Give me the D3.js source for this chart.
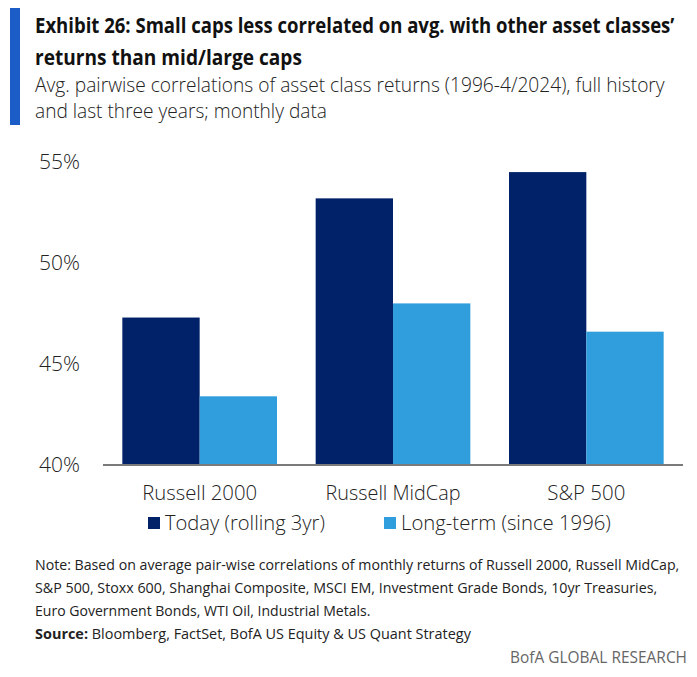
<!DOCTYPE html>
<html lang="en">
<head>
<meta charset="UTF-8">
<script src="https://d3js.org/d3.v7.min.js"></script>
<style>
    body { margin: 0; background: #fff; }
    svg { display: block; font-family: "Open Sans", "Noto Sans", sans-serif; }
</style>
</head>
<body>
<div id="chart"></div>
<script>
    // data
    const categories = ["Russell 2000", "Russell MidCap", "S&P 500"];
    const seriesNames = ["Today (rolling 3yr)", "Long-term (since 1996)"];
    const todayValues = [47.3, 53.2, 54.5];
    const longTermValues = [43.4, 48.0, 46.6];
    const yTicks = [40, 45, 50, 55];

    const width = 697, height = 677;
    const colors = ["#012169", "#309ddc"];

    const svg = d3.select("#chart").append("svg")
        .attr("width", width)
        .attr("height", height);

    // the original uses a condensed face: draw text at (0,0) inside a group,
    // then squeeze the group horizontally to the target width
    const label = (parent, x, y, w, opts) => {
        const g = parent.append("g");
        const t = g.append("text")
            .attr("font-size", opts.size)
            .attr("font-weight", opts.weight || 400)
            .attr("fill", opts.fill || "#222")
            .attr("text-anchor", opts.anchor || "start")
            .attr("dy", opts.dy || null);
        if (opts.parts) {
            opts.parts.forEach(p => t.append("tspan").attr("font-weight", p[1]).text(p[0]));
        } else {
            t.text(opts.text);
        }
        const k = w / t.node().getComputedTextLength();
        g.attr("transform", `translate(${x},${y}) scale(${k},1)`);
        return g;
    };

    // left accent bar
    svg.append("rect").attr("x", 10).attr("y", 8).attr("width", 10).attr("height", 117).attr("fill", "#1b5cc6");

    // title + subtitle
    label(svg, 35, 33, 640, { size: 22, weight: 700, fill: "#111",
        text: "Exhibit 26: Small caps less correlated on avg. with other asset classes’" });
    label(svg, 35, 65, 267, { size: 22, weight: 700, fill: "#111", text: "returns than mid/large caps" });
    label(svg, 35, 92, 630, { size: 21, weight: 300,
        text: "Avg. pairwise correlations of asset class returns (1996-4/2024), full history" });
    label(svg, 35, 118, 292, { size: 21, weight: 300, text: "and last three years; monthly data" });

    // scales
    const x0 = d3.scaleBand().domain(categories).range([103, 683]).paddingInner(0.2).paddingOuter(0.1);
    const x1 = d3.scaleBand().domain([0, 1]).range([0, x0.bandwidth()]);
    const y = d3.scaleLinear().domain([40, 55]).range([465, 162]);

    // y tick labels
    yTicks.forEach(d => {
        label(svg, 80, y(d), 41, { size: 21, weight: 300, anchor: "end", dy: "0.35em", text: d + "%" });
    });

    // bars
    const groups = svg.append("g").selectAll("g").data(categories).join("g")
        .attr("transform", d => `translate(${x0(d)},0)`);
    groups.selectAll("rect").data((d, i) => [todayValues[i], longTermValues[i]]).join("rect")
        .attr("x", (d, j) => x1(j))
        .attr("y", d => y(d))
        .attr("width", x1.bandwidth())
        .attr("height", d => y(40) - y(d))
        .attr("fill", (d, j) => colors[j]);

    // baseline
    svg.append("line").attr("x1", 103).attr("x2", 683).attr("y1", y(40)).attr("y2", y(40))
        .attr("stroke", "#7a7a7a").attr("stroke-width", 2);

    // category labels
    const catWidths = [115, 135, 78];
    categories.forEach((c, i) => {
        label(svg, x0(c) + x0.bandwidth() / 2, 500, catWidths[i], { size: 21, weight: 300, anchor: "middle", text: c });
    });

    // legend
    const legendX = [148, 384], legendW = [160, 210];
    seriesNames.forEach((s, i) => {
        svg.append("rect").attr("x", legendX[i]).attr("y", 517).attr("width", 12).attr("height", 12)
            .attr("fill", colors[i]);
        label(svg, legendX[i] + 17, 523, legendW[i], { size: 21, weight: 300, dy: "0.35em", text: s });
    });

    // notes
    const notes = [
        ["Note: Based on average pair-wise correlations of monthly returns of Russell 2000, Russell MidCap,", 645],
        ["S&P 500, Stoxx 600, Shanghai Composite, MSCI EM, Investment Grade Bonds, 10yr Treasuries,", 623],
        ["Euro Government Bonds, WTI Oil, Industrial Metals.", 336]
    ];
    notes.forEach((n, i) => {
        label(svg, 35, 570 + i * 23, n[1], { size: 15, text: n[0] });
    });
    label(svg, 35, 639, 436, { size: 15,
        parts: [["Source:", 700], [" Bloomberg, FactSet, BofA US Equity & US Quant Strategy", 400]] });

    label(svg, 687, 663, 177, { size: 16, fill: "#666", anchor: "end", text: "BofA GLOBAL RESEARCH" });
</script>
</body>
</html>
